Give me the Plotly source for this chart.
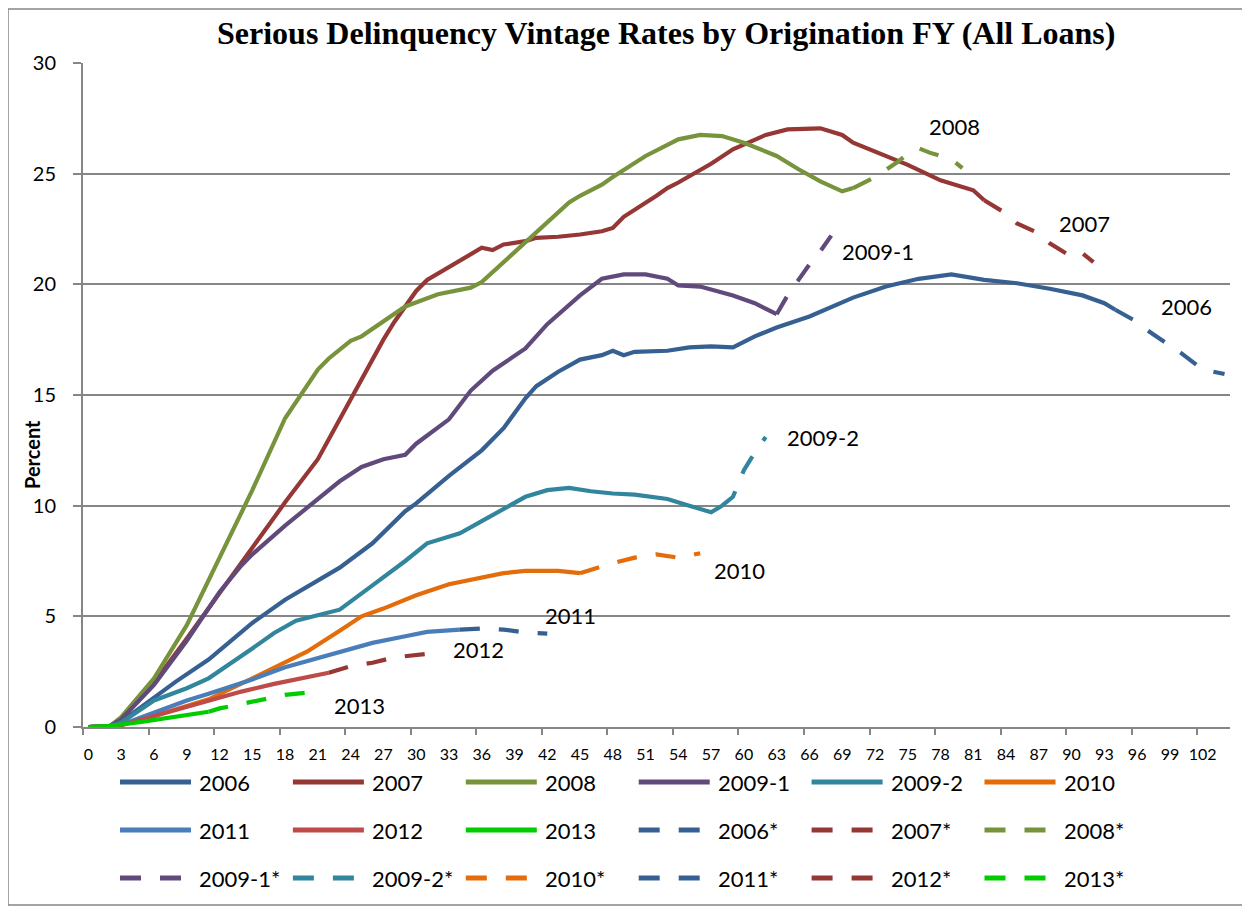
import plotly.graph_objects as go

# ---------------- data (months since origination, percent seriously delinquent) ----------------
m_2006 = [0, 2, 4, 6, 8, 11, 15, 18, 21, 23, 26, 29, 30, 33, 36, 38, 40, 41, 43, 45, 47, 48, 49, 50, 53, 55, 57, 59, 61, 63, 66, 70, 73, 76, 79, 82, 85, 88, 91, 93, 94]
v_2006 = [0, 0.05, 0.6, 1.35, 2.05, 3.05, 4.7, 5.75, 6.65, 7.2, 8.3, 9.75, 10.1, 11.35, 12.5, 13.5, 14.85, 15.4, 16.05, 16.6, 16.8, 17.0, 16.8, 16.95, 17.0, 17.15, 17.2, 17.15, 17.65, 18.05, 18.55, 19.4, 19.9, 20.25, 20.45, 20.2, 20.05, 19.8, 19.5, 19.15, 18.85]
m_2006p = [94, 96, 97, 99, 100, 102, 104]
v_2006p = [18.85, 18.3, 17.9, 17.25, 16.9, 16.15, 15.95]

m_2007 = [0, 2, 3, 6, 9, 12, 15, 18, 21, 24, 26, 27, 28, 30, 31, 33, 34, 36, 37, 38, 40, 41, 43, 45, 47, 48, 49, 50, 52, 53, 54, 57, 59, 62, 64, 67, 69, 70, 73, 75, 78, 81, 82]
v_2007 = [0, 0.05, 0.35, 2.0, 4.0, 6.05, 8.1, 10.15, 12.1, 14.8, 16.6, 17.5, 18.3, 19.7, 20.2, 20.8, 21.1, 21.65, 21.55, 21.8, 21.95, 22.1, 22.15, 22.25, 22.4, 22.55, 23.05, 23.35, 24.0, 24.35, 24.6, 25.45, 26.1, 26.75, 27.0, 27.05, 26.75, 26.4, 25.8, 25.4, 24.7, 24.25, 23.8]
m_2007p = [82, 84, 85, 87, 88, 90, 91, 92]
v_2007p = [23.8, 23.2, 22.75, 22.3, 21.85, 21.25, 21.4, 21.0]

m_2008 = [0, 2, 3, 6, 9, 12, 15, 18, 21, 22, 24, 25, 27, 29, 32, 35, 36, 38, 39, 40, 42, 44, 45, 47, 48, 50, 51, 53, 54, 56, 58, 60, 63, 65, 67, 69, 70]
v_2008 = [0, 0.05, 0.45, 2.2, 4.6, 7.6, 10.7, 13.95, 16.15, 16.65, 17.45, 17.65, 18.3, 19.0, 19.55, 19.85, 20.1, 21.0, 21.45, 21.9, 22.8, 23.7, 24.0, 24.5, 24.85, 25.45, 25.8, 26.3, 26.55, 26.75, 26.7, 26.4, 25.8, 25.2, 24.65, 24.2, 24.35]
m_2008p = [70, 72, 74, 75, 76, 77, 79, 80]
v_2008p = [24.35, 24.85, 25.5, 25.9, 26.15, 25.95, 25.65, 25.25]

m_2009_1 = [0, 2, 3, 6, 9, 12, 14, 15, 18, 21, 23, 25, 27, 29, 30, 33, 35, 37, 40, 42, 45, 47, 49, 51, 53, 54, 56, 59, 61, 63]
v_2009_1 = [0, 0.05, 0.35, 1.9, 3.9, 6.1, 7.3, 7.8, 9.1, 10.3, 11.1, 11.75, 12.1, 12.3, 12.8, 13.9, 15.2, 16.1, 17.1, 18.2, 19.5, 20.25, 20.45, 20.45, 20.25, 19.95, 19.9, 19.5, 19.15, 18.65]
m_2009_1p = [63, 64, 65, 66, 67, 68]
v_2009_1p = [18.65, 19.5, 20.2, 20.9, 21.5, 22.2]

m_2009_2 = [0, 2, 3, 6, 9, 11, 15, 17, 19, 21, 23, 26, 29, 31, 34, 36, 40, 42, 44, 46, 48, 50, 53, 55, 57, 58]
v_2009_2 = [0, 0.03, 0.2, 1.2, 1.75, 2.2, 3.55, 4.25, 4.8, 5.05, 5.3, 6.4, 7.5, 8.3, 8.75, 9.3, 10.4, 10.7, 10.8, 10.65, 10.55, 10.5, 10.3, 10.0, 9.7, 10.0]
m_2009_2p = [58, 59, 60, 61, 62]
v_2009_2p = [10.0, 10.4, 11.6, 12.4, 13.1]

m_2010 = [0, 2, 3, 6, 9, 11, 15, 18, 20, 23, 25, 27, 29, 30, 33, 36, 38, 40, 43, 45]
v_2010 = [0, 0.02, 0.1, 0.5, 0.95, 1.25, 2.2, 2.9, 3.4, 4.35, 5.0, 5.35, 5.75, 5.95, 6.45, 6.75, 6.95, 7.05, 7.05, 6.95]
m_2010p = [45, 47, 48, 50, 52, 54, 56]
v_2010p = [6.95, 7.25, 7.4, 7.65, 7.8, 7.65, 7.85]

m_2011 = [0, 2, 3, 6, 9, 11, 15, 18, 21, 23, 26, 29, 31, 34]
v_2011 = [0, 0.02, 0.1, 0.65, 1.2, 1.5, 2.15, 2.7, 3.1, 3.38, 3.8, 4.1, 4.3, 4.4]
m_2011p = [34, 36, 38, 40, 42]
v_2011p = [4.4, 4.45, 4.4, 4.27, 4.22]

m_2012 = [0, 2, 3, 5, 8, 11, 14, 17, 20, 22]
v_2012 = [0, 0.02, 0.08, 0.35, 0.75, 1.2, 1.6, 1.95, 2.25, 2.45]
m_2012p = [22, 24, 26, 28, 31, 32]
v_2012p = [2.45, 2.75, 2.9, 3.15, 3.3, 3.5]

m_2013 = [0, 2, 5, 8, 11]
v_2013 = [0, 0.05, 0.24, 0.47, 0.69]
m_2013p = [11, 12, 14, 16, 18, 20]
v_2013p = [0.69, 0.84, 1.04, 1.25, 1.45, 1.55]

x_tick_values = list(range(0, 103, 3))
x_tick_labels = [str(v) for v in x_tick_values]

# label text, month, value
label_texts = ["2008", "2007", "2009-1", "2006", "2009-2", "2010", "2011", "2012", "2013"]
label_months = [79.3, 91.2, 72.3, 100.5, 67.2, 59.6, 44.1, 35.7, 24.8]
label_values = [27.15, 22.76, 21.5, 19.0, 13.06, 7.09, 5.06, 3.51, 0.95]

# ---------------- styling ----------------
C_2006 = "#376092"
C_2007 = "#953735"
C_2008 = "#77933C"
C_2009_1 = "#604A7B"
C_2009_2 = "#31859C"
C_2010 = "#E46C0A"
C_2011 = "#4A7EBB"
C_2012 = "#BE4B48"
C_2013 = "#00CC00"
GRID = "#868686"
DASH = "20px,19px"
LINE_W = 4.2

series = [
    ("2006", m_2006, v_2006, C_2006, "solid"),
    ("2007", m_2007, v_2007, C_2007, "solid"),
    ("2008", m_2008, v_2008, C_2008, "solid"),
    ("2009-1", m_2009_1, v_2009_1, C_2009_1, "solid"),
    ("2009-2", m_2009_2, v_2009_2, C_2009_2, "solid"),
    ("2010", m_2010, v_2010, C_2010, "solid"),
    ("2011", m_2011, v_2011, C_2011, "solid"),
    ("2012", m_2012, v_2012, C_2012, "solid"),
    ("2013", m_2013, v_2013, C_2013, "solid"),
    ("2006*", m_2006p, v_2006p, C_2006, DASH),
    ("2007*", m_2007p, v_2007p, C_2007, DASH),
    ("2008*", m_2008p, v_2008p, C_2008, DASH),
    ("2009-1*", m_2009_1p, v_2009_1p, C_2009_1, DASH),
    ("2009-2*", m_2009_2p, v_2009_2p, C_2009_2, DASH),
    ("2010*", m_2010p, v_2010p, C_2010, DASH),
    ("2011*", m_2011p, v_2011p, C_2006, DASH),
    ("2012*", m_2012p, v_2012p, C_2007, DASH),
    ("2013*", m_2013p, v_2013p, C_2013, DASH),
]

# the page places the figure 8px from the top-left corner
OFF = 8
W, H = 1250, 907
ML, MT = 83 - OFF, 63 - OFF
PW, PH = 1147, 664
MR = W - ML - PW
MB = H - MT - PH


def px_x(px):
    return (px - OFF - ML) / PW


def px_y(py):
    return (MT + PH - (py - OFF)) / PH


fig = go.Figure()
for name, xs, ys, col, dash in series:
    fig.add_trace(go.Scatter(x=xs, y=ys, mode="lines", name=name,
                             line=dict(color=col, width=LINE_W, dash=dash),
                             showlegend=False, hoverinfo="skip"))

FONT = "Lato, 'Open Sans', sans-serif"

annotations = []
for t, mx, vy in zip(label_texts, label_months, label_values):
    annotations.append(dict(x=mx, y=vy, xref="x", yref="y", text=t, showarrow=False,
                            font=dict(family=FONT, size=22, color="black"),
                            xanchor="center", yanchor="middle"))

# title
annotations.append(dict(x=px_x(666), y=px_y(33), xref="paper", yref="paper",
                        text="<b>Serious Delinquency Vintage Rates by Origination FY (All Loans)</b>",
                        showarrow=False, xanchor="center", yanchor="middle",
                        font=dict(family="Liberation Serif, 'Times New Roman', serif", size=32, color="black")))
# y axis title
annotations.append(dict(x=px_x(32), y=px_y(455), xref="paper", yref="paper",
                        text="<b>Percent</b>", textangle=-90, showarrow=False,
                        xanchor="center", yanchor="middle",
                        font=dict(family=FONT, size=20, color="black")))

# manual legend (6 columns x 3 rows)
shapes = []
col_x0 = [120 + k * 172.9 for k in range(6)]
row_y = [782, 830, 878]
for i, (name, xs, ys, col, dash) in enumerate(series):
    r, c = divmod(i, 6)
    x0 = col_x0[c]
    y0 = row_y[r]
    shapes.append(dict(type="line", xref="paper", yref="paper",
                       x0=px_x(x0), x1=px_x(x0 + 71), y0=px_y(y0), y1=px_y(y0),
                       line=dict(color=col, width=5, dash="21px,19px" if dash != "solid" else "solid")))
    annotations.append(dict(x=px_x(x0 + 77), y=px_y(y0), xref="paper", yref="paper",
                            text=name, showarrow=False, xanchor="left", yanchor="middle",
                            font=dict(family=FONT, size=22, color="black")))

# outer border
shapes.append(dict(type="rect", xref="paper", yref="paper",
                   x0=px_x(8), x1=px_x(1247.5), y0=px_y(905), y1=px_y(9),
                   line=dict(color=GRID, width=1.5), fillcolor="rgba(0,0,0,0)", layer="below"))

fig.update_layout(
    width=W, height=H,
    margin=dict(l=ML, r=MR, t=MT, b=MB),
    paper_bgcolor="white", plot_bgcolor="white",
    showlegend=False,
    annotations=annotations,
    shapes=shapes,
)
fig.update_xaxes(range=[-0.5, 104.5], tickmode="array", tickvals=x_tick_values, ticktext=x_tick_labels,
                 ticks="", showgrid=False, zeroline=False,
                 showline=True, linecolor=GRID, linewidth=2,
                 tickfont=dict(family=FONT, size=16, color="black"), ticklabelstandoff=12,
                 minor=dict(tickmode="array", tickvals=[-0.5 + 6 * k for k in range(18)],
                            ticks="outside", ticklen=6, tickwidth=1.5, tickcolor=GRID, showgrid=False))
fig.update_yaxes(range=[0, 30], tickmode="linear", tick0=0, dtick=5,
                 showgrid=True, gridcolor=GRID, gridwidth=1.5, zeroline=False,
                 showline=True, linecolor=GRID, linewidth=2,
                 ticks="outside", ticklen=8, tickwidth=1.5, tickcolor=GRID,
                 tickfont=dict(family=FONT, size=20, color="black"), ticklabelstandoff=13)

fig.write_html("out.html")
